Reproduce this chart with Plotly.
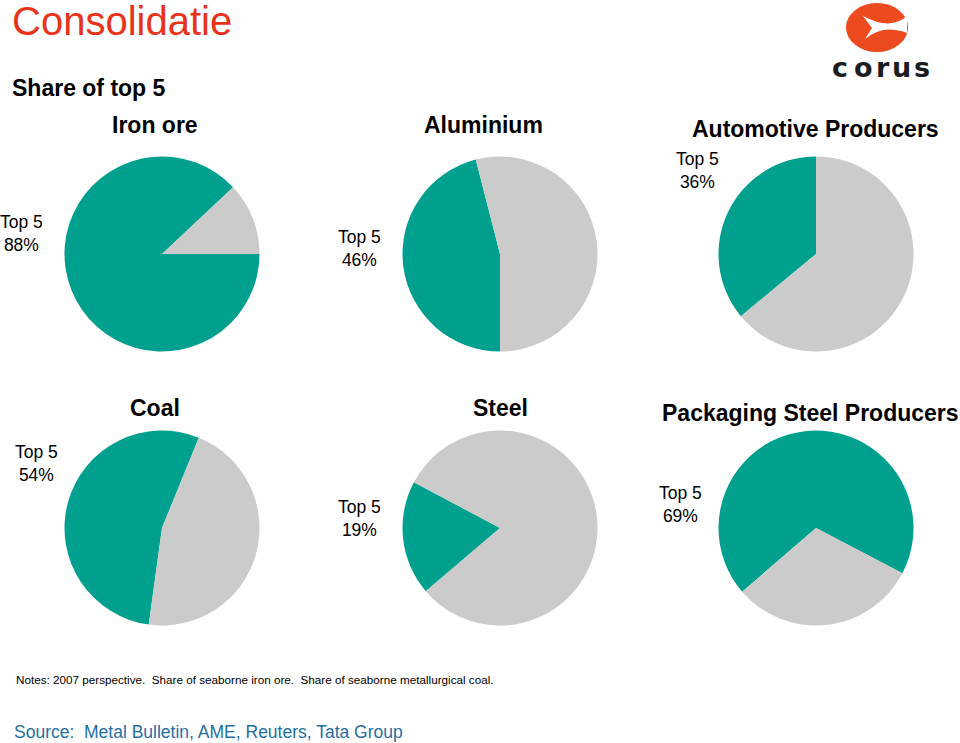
import plotly.graph_objects as go

# ---- data ----
segments = ["Iron ore", "Aluminium", "Automotive Producers", "Coal", "Steel", "Packaging Steel Producers"]
top5_share = [88, 46, 36, 54, 19, 69]
rest_share = [12, 54, 64, 46, 81, 31]
slice_labels = ["Top 5", "Others"]

# ---- style / layout ----
W, H = 960, 743
TEAL = "#00A08E"
GREY = "#CBCBCB"
centers = [(162, 254), (500, 254), (816, 254), (162, 528), (500, 528), (816, 528)]
R = 97.5
# start angle (clockwise from 12 o'clock) of the "Top 5" slice
rotations = [90, 180, 230.4, 187.8, 229.6, 229.2]
title_pos = [(155, 125), (483, 125), (815, 129), (155, 408), (500, 408), (810, 413)]
label_pos = [(21, 233), (359, 248), (697, 170), (36, 463), (359, 518), (680, 505)]

def px(x):
    return x / W

def py(y):
    return 1 - y / H

fig = go.Figure()
for i, seg in enumerate(segments):
    cx, cy = centers[i]
    fig.add_trace(go.Pie(
        labels=slice_labels,
        values=[top5_share[i], rest_share[i]],
        sort=False,
        direction="clockwise",
        rotation=rotations[i],
        marker=dict(colors=[TEAL, GREY], line=dict(width=0)),
        textinfo="none",
        hoverinfo="label+percent",
        showlegend=False,
        domain=dict(x=[px(cx - R), px(cx + R)], y=[py(cy + R), py(cy - R)]),
        name=seg,
    ))

ann = []
FONT = "Liberation Sans, Arial, sans-serif"
for i, seg in enumerate(segments):
    tx, ty = title_pos[i]
    ann.append(dict(text=f"<b>{seg}</b>", x=px(tx), y=py(ty), xref="paper", yref="paper",
                    xanchor="center", yanchor="middle", showarrow=False,
                    font=dict(family=FONT, size=23, color="#000000")))
    lx, ly = label_pos[i]
    ann.append(dict(text=f"Top 5<br>{top5_share[i]}%", x=px(lx), y=py(ly), xref="paper", yref="paper",
                    xanchor="center", yanchor="middle", showarrow=False, align="center",
                    font=dict(family=FONT, size=17.5, color="#000000")))

ann.append(dict(text="Consolidatie", x=px(10), y=py(21), xref="paper", yref="paper",
                xanchor="left", yanchor="middle", showarrow=False,
                font=dict(family=FONT, size=40, color="#E8321A")))
ann.append(dict(text="<b>Share of top 5</b>", x=px(10), y=py(88), xref="paper", yref="paper",
                xanchor="left", yanchor="middle", showarrow=False,
                font=dict(family=FONT, size=23, color="#000000")))
ann.append(dict(text="Notes: 2007 perspective.  Share of seaborne iron ore.  Share of seaborne metallurgical coal.",
                x=px(14), y=py(679), xref="paper", yref="paper",
                xanchor="left", yanchor="middle", showarrow=False,
                font=dict(family=FONT, size=11.7, color="#000000")))
ann.append(dict(text="Source:  Metal Bulletin, AME, Reuters, Tata Group",
                x=px(12), y=py(732), xref="paper", yref="paper",
                xanchor="left", yanchor="middle", showarrow=False,
                font=dict(family=FONT, size=17.5, color="#1F6FA3")))

# corus logo text (letters spaced)
logo_letters = ["c", "o", "r", "u", "s"]
logo_x = [840, 863, 883, 901, 921.5]
for ch, lx in zip(logo_letters, logo_x):
    ann.append(dict(text=f"<b>{ch}</b>", x=px(lx), y=py(67.5), xref="paper", yref="paper",
                    xanchor="center", yanchor="middle", showarrow=False,
                    font=dict(family="DejaVu Sans, sans-serif", size=27, color="#1B1B22")))

def P(x, y):
    return f"{px(x)},{py(y)}"

shapes = [
    dict(type="circle", xref="paper", yref="paper",
         x0=px(846), x1=px(908), y0=py(52), y1=py(3),
         fillcolor="#EE4A1F", line=dict(width=0), layer="above"),
    dict(type="path", xref="paper", yref="paper",
         path=(f"M {P(863,16)} Q {P(877,23.5)} {P(888,23.5)} Q {P(899,23)} {P(907,16)} "
               f"L {P(907,33)} Q {P(899,29.5)} {P(888,29.5)} Q {P(876,30)} {P(865,39)} "
               f"L {P(872,28)} Z"),
         fillcolor="#FFFFFF", line=dict(width=0), layer="above"),
]

fig.update_layout(
    width=W, height=H,
    margin=dict(l=0, r=0, t=0, b=0),
    paper_bgcolor="#FFFFFF",
    plot_bgcolor="#FFFFFF",
    annotations=ann,
    shapes=shapes,
    showlegend=False,
)

fig.write_html("out.html", config={"displayModeBar": False},
               post_script="document.body.style.margin='0';document.body.style.overflow='hidden';")
